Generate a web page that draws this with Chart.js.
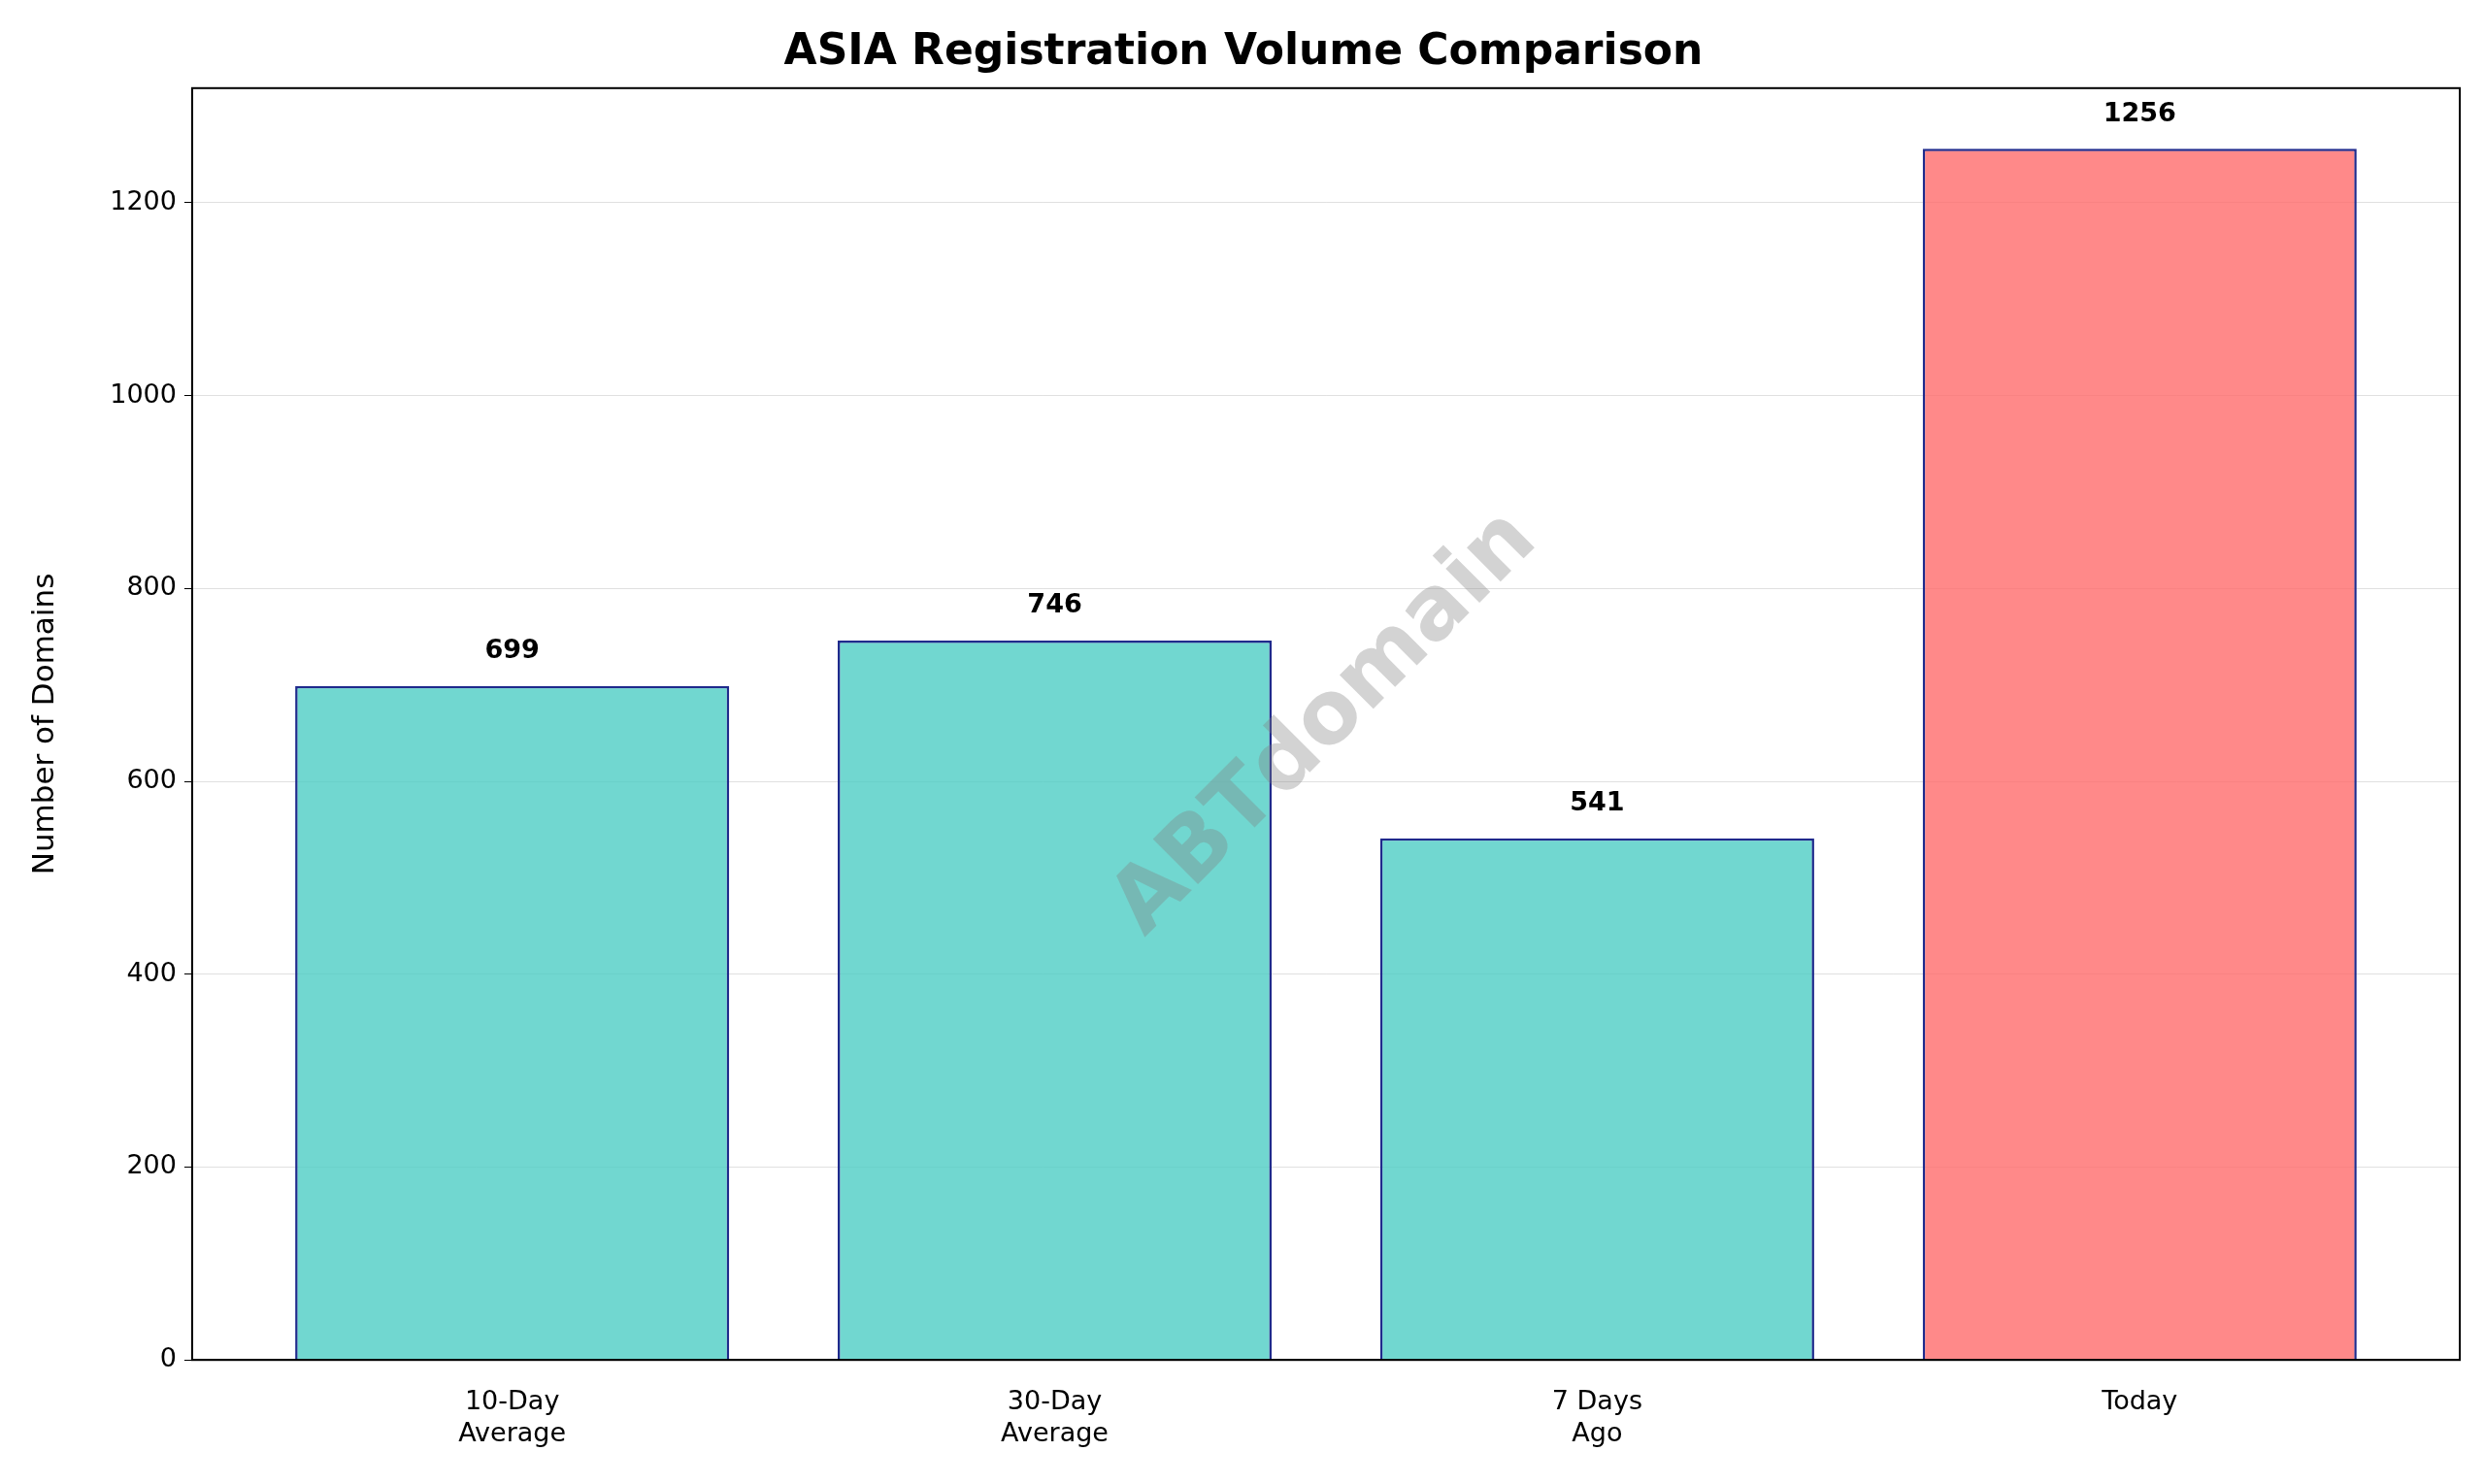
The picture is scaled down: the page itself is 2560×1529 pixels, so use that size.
<!DOCTYPE html>
<html>
<head>
<meta charset="UTF-8">
<script src="https://cdn.jsdelivr.net/npm/chart.js"></script>
<style>
  body { margin: 0; background: #fff; }
  #wrap { width: 2560px; height: 1529px; }
</style>
</head>
<body>
<div id="wrap"><canvas id="myChart"></canvas></div>
<script>
const categories = [['10-Day', 'Average'], ['30-Day', 'Average'], ['7 Days', 'Ago'], ['Today']];
const volumes = [699, 746, 541, 1256];
const barColors = ['rgba(78,205,196,0.8)', 'rgba(78,205,196,0.8)', 'rgba(78,205,196,0.8)', 'rgba(255,107,107,0.8)'];
const yTicks = [0, 200, 400, 600, 800, 1000, 1200];

const FONT = 'DejaVu Sans';

// value labels, watermark and the box around the plot
const extras = {
  id: 'extras',
  afterDatasetsDraw(chart) {
    const { ctx, chartArea: a } = chart;
    const meta = chart.getDatasetMeta(0);
    ctx.save();
    ctx.font = 'bold 27px "' + FONT + '"';
    ctx.fillStyle = '#000';
    ctx.textAlign = 'center';
    ctx.textBaseline = 'bottom';
    meta.data.forEach((bar, i) => {
      ctx.fillText(String(volumes[i]), bar.x, bar.y - 22);
    });
    // watermark
    ctx.translate((a.left + a.right) / 2, (a.top + a.bottom) / 2);
    ctx.rotate(-Math.PI / 4);
    ctx.font = 'bold 90px "' + FONT + '"';
    ctx.fillStyle = 'rgba(128,128,128,0.35)';
    ctx.textBaseline = 'middle';
    ctx.fillText('ABTdomain', 0, 0);
    ctx.restore();
    ctx.save();
    ctx.strokeStyle = '#000';
    ctx.lineWidth = 2;
    ctx.strokeRect(a.left, a.top, a.right - a.left, a.bottom - a.top);
    ctx.restore();
  }
};

new Chart(document.getElementById('myChart'), {
  type: 'bar',
  data: {
    datasets: [{
      data: volumes.map((v, i) => ({ x: i, y: v })),
      backgroundColor: barColors,
      borderColor: '#1f2a8c',
      borderWidth: 2.5,
      barPercentage: 1,
      categoryPercentage: 0.8
    }]
  },
  options: {
    responsive: true,
    maintainAspectRatio: false,
    animation: false,
    layout: { padding: { left: 28, right: 26, top: 22, bottom: 15 } },
    plugins: {
      legend: { display: false },
      tooltip: { enabled: false },
      title: {
        display: true,
        text: 'ASIA Registration Volume Comparison',
        color: '#000',
        font: { family: FONT, size: 44, weight: 'bold' },
        padding: { top: 6, bottom: 10 }
      }
    },
    scales: {
      x: {
        type: 'linear',
        offset: false,
        min: -0.59,
        max: 3.59,
        afterBuildTicks: s => { s.ticks = categories.map((c, i) => ({ value: i })); },
        ticks: {
          color: '#000',
          font: { family: FONT, size: 27 },
          callback: v => categories[v],
          padding: 20
        },
        grid: { display: false, offset: false, tickLength: 8 },
        border: { color: '#000', width: 2 }
      },
      y: {
        min: 0,
        max: 1318.8,
        afterBuildTicks: s => { s.ticks = yTicks.map(v => ({ value: v })); },
        title: {
          display: true,
          text: 'Number of Domains',
          color: '#000',
          font: { family: FONT, size: 31 },
          padding: { top: 0, bottom: 40 }
        },
        ticks: { color: '#000', font: { family: FONT, size: 27 }, padding: 8, callback: v => String(v) },
        grid: { color: 'rgba(0,0,0,0.12)', tickColor: '#000', tickLength: 8 },
        border: { color: '#000', width: 2 }
      }
    }
  },
  plugins: [extras]
});
</script>
</body>
</html>
